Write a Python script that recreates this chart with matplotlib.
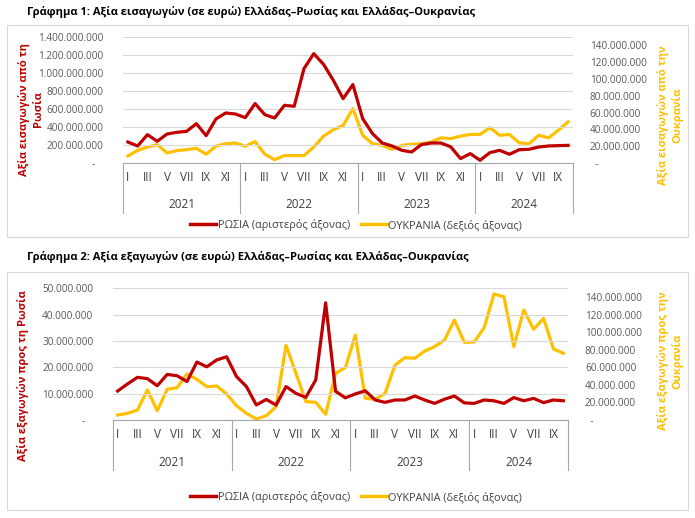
import numpy as np
import matplotlib
matplotlib.use("Agg")
import matplotlib.pyplot as plt
from matplotlib.patches import Rectangle
from matplotlib.lines import Line2D
import matplotlib.transforms as mtransforms

plt.rcParams['font.family'] = ['Open Sans', 'DejaVu Sans']

# ---- data (euros) ----
years = ["2021", "2022", "2023", "2024"]
months_per_year = [12, 12, 12, 10]
roman = ["I", "", "III", "", "V", "", "VII", "", "IX", "", "XI", ""]

# Γράφημα 1: εισαγωγές (εκατ. ευρώ)
russia_imp = [233, 189, 315, 241, 322, 341, 352, 437, 304, 489, 556, 544,
              504, 660, 537, 500, 641, 630, 1049, 1215, 1096, 919, 715, 871,
              493, 327, 222, 189, 141, 122, 204, 222, 222, 180, 49, 104,
              30, 115, 141, 97, 148, 152, 178, 189, 193, 196]
ukraine_imp = [8.3, 15.1, 19.0, 21.9, 11.9, 14.7, 15.9, 17.5, 10.4, 20.2, 23.0, 23.8,
               19.9, 25.5, 10.4, 4.0, 8.8, 8.8, 8.8, 19.0, 32.0, 39.7, 44.7, 64.8,
               33.0, 23.0, 21.0, 16.3, 21.0, 22.3, 23.0, 25.0, 30.0, 29.0, 32.0, 34.0,
               34.0, 42.0, 33.0, 34.0, 24.0, 23.0, 33.0, 30.0, 39.0, 49.0]

# Γράφημα 2: εξαγωγές (εκατ. ευρώ)
russia_exp = [11.0, 13.7, 16.2, 15.7, 13.0, 17.3, 16.8, 14.6, 22.0, 20.2, 22.8, 24.0,
              16.5, 12.7, 5.7, 7.8, 5.7, 12.7, 10.1, 8.6, 15.2, 44.5, 10.9, 8.4,
              9.9, 11.1, 7.6, 6.7, 7.6, 7.6, 9.1, 7.6, 6.3, 7.9, 9.1, 6.5,
              6.3, 7.6, 7.3, 6.3, 8.5, 7.3, 8.2, 6.6, 7.6, 7.3]
ukraine_exp = [5.7, 7.6, 11.4, 34.2, 10.6, 35.0, 36.8, 52.4, 46.4, 37.9, 38.7, 29.6,
               16.3, 7.6, 1.1, 4.9, 15.2, 85.0, 53.2, 20.9, 20.2, 6.5, 53.2, 59.8,
               96.8, 24.7, 23.5, 30.4, 62.6, 71.0, 70.3, 78.6, 83.5, 91.1, 113.9, 88.5,
               88.8, 105.0, 143.5, 140.4, 83.5, 125.3, 103.3, 115.8, 80.9, 76.0]

RED = "#C00000"
GOLD = "#FFC000"
GRID = "#D9D9D9"
TXT = "#595959"
FRAME = "#A6A6A6"

W, H = 695, 518
fig = plt.figure(figsize=(W / 100, H / 100), dpi=100)


def fmt(v, zero):
    if v == 0:
        return zero
    return f"{int(v):,}".replace(",", ".")


def axes_px(x0, x1, ytop, ybot):
    return [x0 / W, (H - ybot) / H, (x1 - x0) / W, (ybot - ytop) / H]


def draw_chart(rect, left, right, lmax, lstep, rmax, rstep, box, title, title_y,
               llabel, lpos, rlabel, rpos, leg_y):
    x0, x1, ytop, ybot = rect
    # frame around the chart
    fig.patches.append(Rectangle((box[0] / W, 1 - box[3] / H), (box[2] - box[0]) / W,
                                 (box[3] - box[1]) / H, transform=fig.transFigure,
                                 fill=False, edgecolor=GRID, lw=0.8))
    fig.text(27 / W, 1 - title_y / H, title, fontsize=8, fontweight='bold',
             ha='left', va='center')

    ax = fig.add_axes(axes_px(x0, x1, ytop, ybot))
    ax2 = ax.twinx()
    n = len(left)
    x = np.arange(n)
    ax2.plot(x, np.array(right) * 1e6, color=GOLD, lw=2.3, solid_joinstyle='round')
    ax.plot(x, np.array(left) * 1e6, color=RED, lw=2.3, solid_joinstyle='round')
    ax.set_zorder(ax2.get_zorder() + 1)
    ax.patch.set_visible(False)

    ax.set_xlim(-0.5, n - 0.5)
    ax.set_ylim(0, lmax)
    ax2.set_ylim(0, rmax)
    lt = np.arange(0, lmax + 1, lstep)
    rt = np.arange(0, rmax - rstep / 2 + 1, rstep)
    ax.set_yticks(lt)
    ax.set_yticklabels([fmt(v, "-   ") for v in lt])
    ax2.set_yticks(rt)
    ax2.set_yticklabels([fmt(v, "  -") for v in rt])
    ax.grid(axis='y', color=GRID, lw=0.8)
    for a in (ax, ax2):
        for s in a.spines.values():
            s.set_visible(False)
        a.tick_params(axis='y', length=0, labelsize=7.2, colors=TXT)
    ax.tick_params(axis='y', pad=14)
    ax2.tick_params(axis='y', pad=12)
    ax.spines['bottom'].set_visible(True)
    ax.spines['bottom'].set_color(FRAME)
    ax.spines['bottom'].set_linewidth(0.8)

    labels = []
    for m in months_per_year:
        labels += roman[:m]
    ax.set_xticks(x)
    ax.set_xticklabels(labels)
    ax.tick_params(axis='x', length=0, labelsize=8.5, colors="#404040", pad=6)

    hpx = ybot - ytop
    trans = mtransforms.blended_transform_factory(ax.transData, ax.transAxes)
    bounds = [-0.5]
    for m in months_per_year:
        bounds.append(bounds[-1] + m)
    for b in bounds:
        ax.add_line(Line2D([b, b], [0, -50 / hpx], transform=trans, color=FRAME,
                           lw=0.8, clip_on=False))
    for i, yr in enumerate(years):
        ax.text((bounds[i] + bounds[i + 1]) / 2, -42 / hpx, yr, transform=trans,
                ha='center', va='center', fontsize=8.5, color="#404040")

    fig.text(lpos[0] / W, 1 - lpos[1] / H, llabel, rotation=90, color=RED,
             fontsize=8, fontweight='bold', ha='center', va='center',
             multialignment='center', linespacing=1.25)
    fig.text(rpos[0] / W, 1 - rpos[1] / H, rlabel, rotation=90, color=GOLD,
             fontsize=8, fontweight='bold', ha='center', va='center',
             multialignment='center', linespacing=1.25)

    handles = [Line2D([], [], color=RED, lw=2.5), Line2D([], [], color=GOLD, lw=2.5)]
    fig.legend(handles, ["ΡΩΣΙΑ (αριστερός άξονας)", "ΟΥΚΡΑΝΙΑ (δεξιός άξονας)"],
               loc='center', bbox_to_anchor=(356 / W, 1 - leg_y / H), ncol=2,
               frameon=False, fontsize=7.8, handlelength=2.4, handletextpad=0.1,
               columnspacing=1.0, labelcolor="#404040")


draw_chart((123, 573, 37, 163), russia_imp, ukraine_imp, 1.4e9, 2e8, 1.5e8, 2e7,
           (7, 25, 688, 237),
           "Γράφημα 1: Αξία εισαγωγών (σε ευρώ) Ελλάδας–Ρωσίας και Ελλάδας–Ουκρανίας", 12,
           "Αξία εισαγωγών από τη\nΡωσία", (31, 109),
           "Αξία εισαγωγών από την\nΟυκρανία", (670, 115), 225)

draw_chart((112.7, 568.3, 288.3, 420), russia_exp, ukraine_exp, 5e7, 1e7, 1.5e8, 2e7,
           (7, 272, 688, 510),
           "Γράφημα 2: Αξία εξαγωγών (σε ευρώ) Ελλάδας–Ρωσίας και Ελλάδας–Ουκρανίας", 257,
           "Αξία εξαγωγών προς τη Ρωσία", (23, 376),
           "Αξία εξαγωγών προς την\nΟυκρανία", (670, 361), 497)

fig.savefig("out.png", dpi=100)
